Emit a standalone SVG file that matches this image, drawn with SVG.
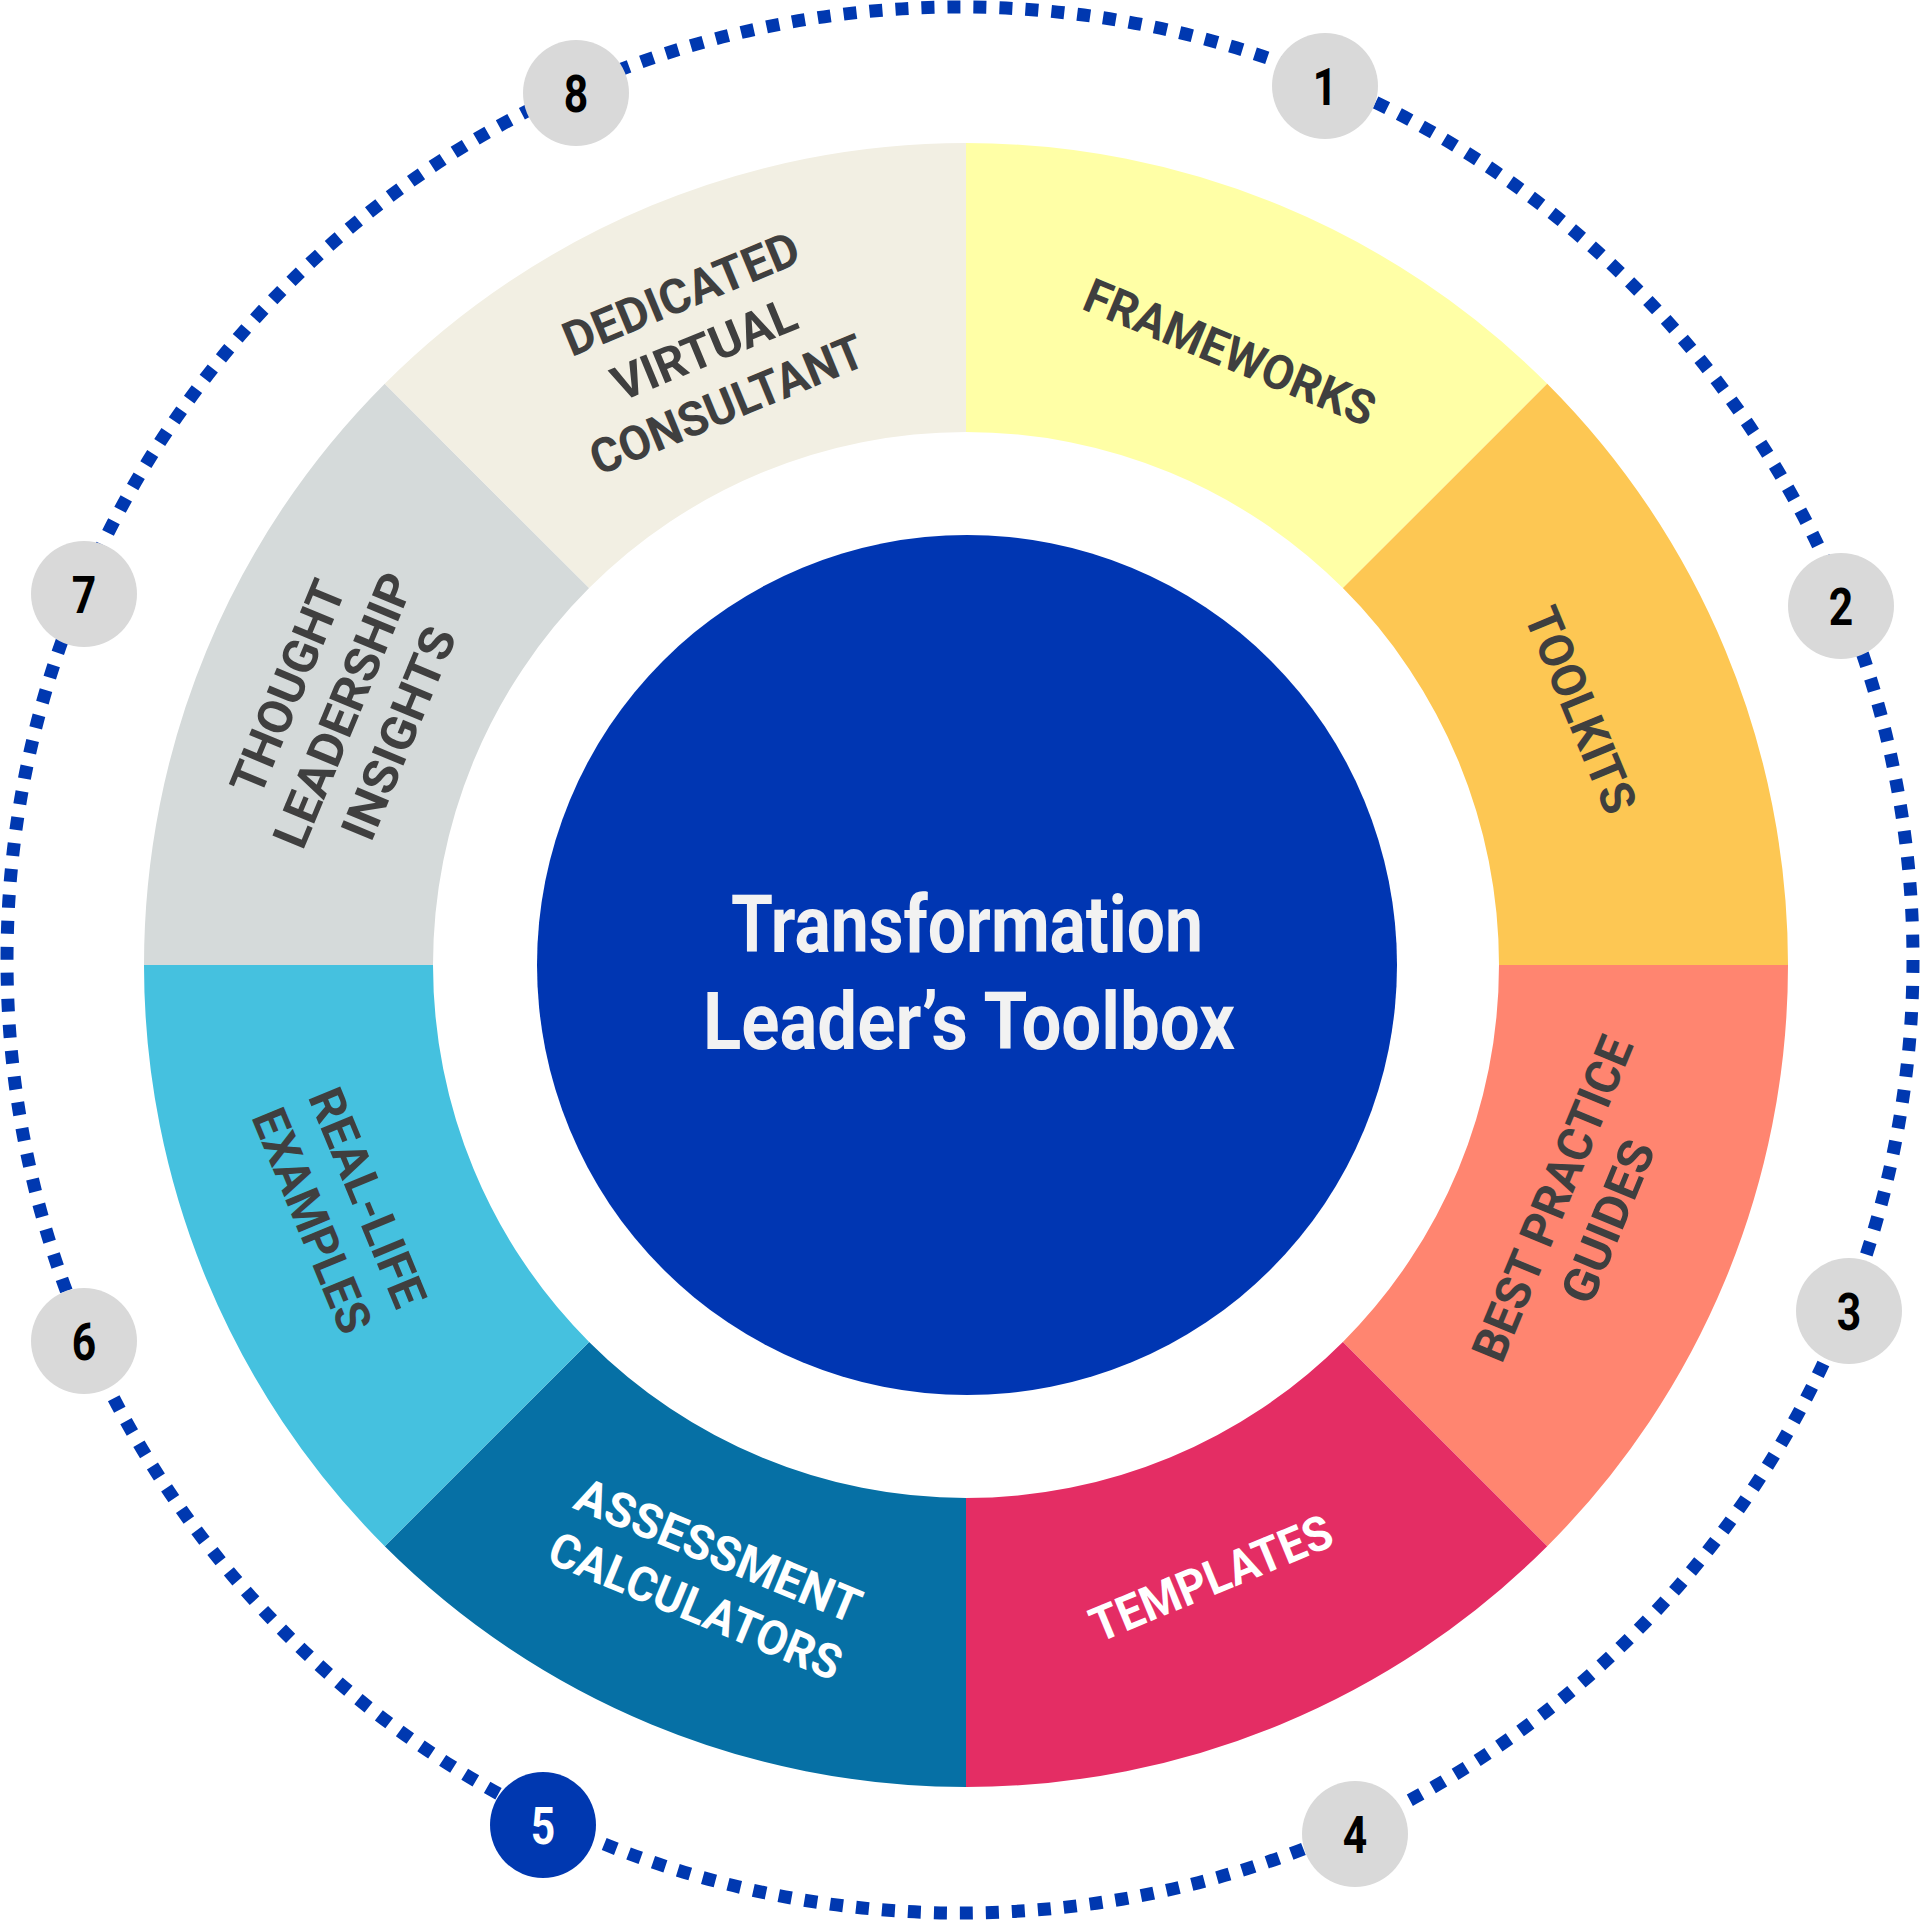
<svg xmlns="http://www.w3.org/2000/svg" width="1920" height="1921" viewBox="0 0 1920 1921">
<style>
.lbl{font-family:"Roboto","Liberation Sans",sans-serif;font-weight:700;font-size:48px;fill:#3F3F3F;text-anchor:middle}
.lblw{fill:#FFFFFF}
.num{font-family:"Roboto","Liberation Sans",sans-serif;font-weight:700;font-size:52px;fill:#000000;text-anchor:middle}
.title{font-family:"Roboto","Liberation Sans",sans-serif;font-weight:700;font-size:80px;fill:#F2F2F2;text-anchor:middle}
.badge{fill:#D9D9D9}
</style>
<rect width="1920" height="1921" fill="#FFFFFF"/>
<g id="connectors">
<circle cx="960" cy="960" r="953" fill="none" stroke="#0038B0" stroke-width="13" stroke-dasharray="13.017 13.017"/>
</g>
<g id="ring">
<g id="seg-frameworks"><path d="M966 143 A822 822 0 0 1 1547.24 383.76 L1342.89 588.11 A533 533 0 0 0 966 432 Z" fill="#FFFFA6"/>
<g transform="translate(1230 352) rotate(22.5)"><text class="lbl" x="0" y="17" textLength="310" lengthAdjust="spacingAndGlyphs">FRAMEWORKS</text></g></g>
<g id="seg-toolkits"><path d="M1547.24 383.76 A822 822 0 0 1 1788 965 L1499 965 A533 533 0 0 0 1342.89 588.11 Z" fill="#FDC753"/>
<g transform="translate(1581 710) rotate(67.5)"><text class="lbl" x="0" y="17" textLength="218" lengthAdjust="spacingAndGlyphs">TOOLKITS</text></g></g>
<g id="seg-best-practice"><path d="M1788 965 A822 822 0 0 1 1547.24 1546.24 L1342.89 1341.89 A533 533 0 0 0 1499 965 Z" fill="#FF8570"/>
<g transform="translate(1580 1210) rotate(-67.5)"><text class="lbl" x="0" y="-13" textLength="346" lengthAdjust="spacingAndGlyphs">BEST PRACTICE</text><text class="lbl" x="0" y="47" textLength="171" lengthAdjust="spacingAndGlyphs">GUIDES</text></g></g>
<g id="seg-templates"><path d="M1547.24 1546.24 A822 822 0 0 1 966 1787 L966 1498 A533 533 0 0 0 1342.89 1341.89 Z" fill="#E42D64"/>
<g transform="translate(1211 1578) rotate(-22.5)"><text class="lbl lblw" x="0" y="17" textLength="257" lengthAdjust="spacingAndGlyphs">TEMPLATES</text></g></g>
<g id="seg-assessment"><path d="M966 1787 A822 822 0 0 1 384.76 1546.24 L589.11 1341.89 A533 533 0 0 0 966 1498 Z" fill="#0670A5"/>
<g transform="translate(707 1578) rotate(22.5)"><text class="lbl lblw" x="0" y="-13" textLength="304" lengthAdjust="spacingAndGlyphs">ASSESSMENT</text><text class="lbl lblw" x="0" y="47" textLength="312" lengthAdjust="spacingAndGlyphs">CALCULATORS</text></g></g>
<g id="seg-real-life"><path d="M384.76 1546.24 A822 822 0 0 1 144 965 L433 965 A533 533 0 0 0 589.11 1341.89 Z" fill="#45C1DF"/>
<g transform="translate(340 1209) rotate(67.5)"><text class="lbl" x="0" y="-13" textLength="232" lengthAdjust="spacingAndGlyphs">REAL-LIFE</text><text class="lbl" x="0" y="47" textLength="238" lengthAdjust="spacingAndGlyphs">EXAMPLES</text></g></g>
<g id="seg-thought"><path d="M144 965 A822 822 0 0 1 384.76 383.76 L589.11 588.11 A533 533 0 0 0 433 965 Z" fill="#D5DADA"/>
<g transform="translate(343 710) rotate(-67.5)"><text class="lbl" x="0" y="-43" textLength="226" lengthAdjust="spacingAndGlyphs">THOUGHT</text><text class="lbl" x="0" y="17" textLength="292" lengthAdjust="spacingAndGlyphs">LEADERSHIP</text><text class="lbl" x="0" y="77" textLength="225" lengthAdjust="spacingAndGlyphs">INSIGHTS</text></g></g>
<g id="seg-dedicated"><path d="M384.76 383.76 A822 822 0 0 1 966 143 L966 432 A533 533 0 0 0 589.11 588.11 Z" fill="#F2EFE3"/>
<g transform="translate(704 349) rotate(-22.5)"><text class="lbl" x="0" y="-43" textLength="251" lengthAdjust="spacingAndGlyphs">DEDICATED</text><text class="lbl" x="0" y="17" textLength="195" lengthAdjust="spacingAndGlyphs">VIRTUAL</text><text class="lbl" x="0" y="77" textLength="292" lengthAdjust="spacingAndGlyphs">CONSULTANT</text></g></g>
</g>
<g id="center">
<circle cx="967" cy="965" r="430" fill="#0036B2"/>
<text class="title" x="967" y="952" textLength="472" lengthAdjust="spacingAndGlyphs">Transformation</text>
<text class="title" x="969" y="1049" textLength="532" lengthAdjust="spacingAndGlyphs">Leader’s Toolbox</text>
</g>
<g id="badge-1"><circle class="badge" cx="1325" cy="86" r="53"/><text class="num" transform="translate(1325 105) scale(0.82 1)">1</text></g>
<g id="badge-2"><circle class="badge" cx="1841" cy="606" r="53"/><text class="num" transform="translate(1841 625) scale(0.82 1)">2</text></g>
<g id="badge-3"><circle class="badge" cx="1849" cy="1311" r="53"/><text class="num" transform="translate(1849 1330) scale(0.82 1)">3</text></g>
<g id="badge-4"><circle class="badge" cx="1355" cy="1834" r="53"/><text class="num" transform="translate(1355 1853) scale(0.82 1)">4</text></g>
<g id="badge-5"><circle cx="543" cy="1825" r="53" fill="#0038B0"/><text class="num" fill="#FFFFFF" style="fill:#FFFFFF" transform="translate(543 1844) scale(0.82 1)">5</text></g>
<g id="badge-6"><circle class="badge" cx="84" cy="1341" r="53"/><text class="num" transform="translate(84 1360) scale(0.82 1)">6</text></g>
<g id="badge-7"><circle class="badge" cx="84" cy="594" r="53"/><text class="num" transform="translate(84 613) scale(0.82 1)">7</text></g>
<g id="badge-8"><circle class="badge" cx="576" cy="93" r="53"/><text class="num" transform="translate(576 112) scale(0.82 1)">8</text></g>
</svg>
